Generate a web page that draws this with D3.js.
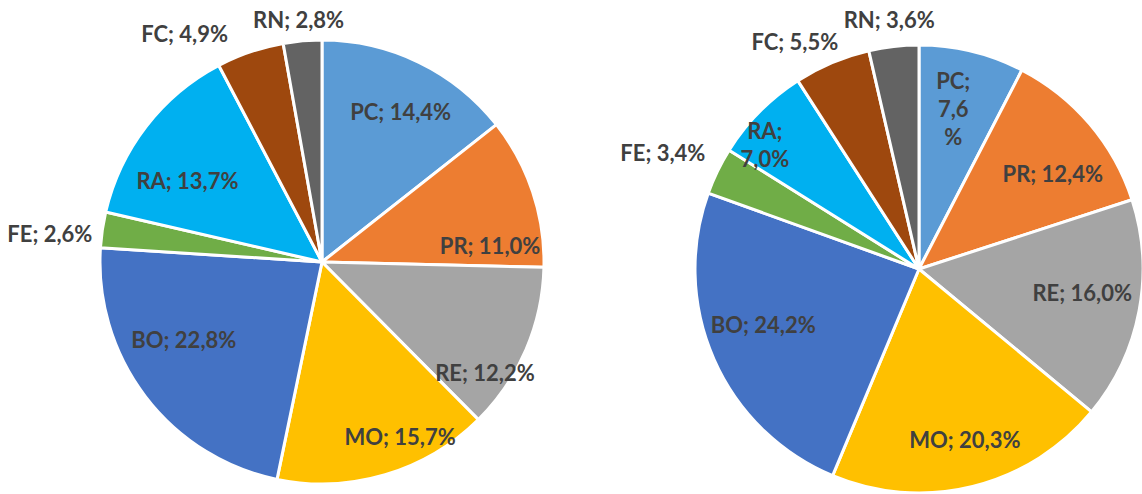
<!DOCTYPE html>
<html>
<head>
<meta charset="utf-8">
<script src="https://cdn.jsdelivr.net/npm/d3@7"></script>
<style>
  body { margin: 0; background: #fff; }
  svg { display: block; }
</style>
</head>
<body>
<div id="chart"></div>
<script>
// categories, clockwise from 12 o'clock
const categories = ["PC", "PR", "RE", "MO", "BO", "FE", "RA", "FC", "RN"];
const leftValues = [14.4, 11.0, 12.2, 15.7, 22.8, 2.6, 13.7, 4.9, 2.8];
const rightValues = [7.6, 12.4, 16.0, 20.3, 24.2, 3.4, 7.0, 5.5, 3.6];

const colors = {
    PC: "#5B9BD5", PR: "#ED7D31", RE: "#A5A5A5", MO: "#FFC000", BO: "#4472C4",
    FE: "#70AD47", RA: "#00B0F0", FC: "#9E480E", RN: "#636363"
};

const width = 1142, height = 494;

// pie placement + label tweaks (pixel nudges from the default label spot)
const pies = [
    {
        values: leftValues, cx: 322, cy: 262, r: 222,
        nudge: {PC: [5, 2], PR: [8, 37], RE: [8, 44], MO: [30, 13], BO: [-4, -24], RA: [-1, 22],
                FE: [12, 8], FC: [-15, 3], RN: [-2, 1]},
        wrap: {}
    },
    {
        values: rightValues, cx: 919, cy: 269, r: 224,
        nudge: {PC: [-6, 5], PR: [4, 15], RE: [-4, -8], MO: [5, 6], BO: [0, -13], RA: [-33, -4],
                FE: [8, -8], FC: [15, 0], RN: [-2, -4]},
        wrap: {PC: [1, 3], RA: [1]}   // split label text after these word/char breaks
    }
];

const fmt = v => v.toFixed(1).replace(".", ",") + "%";

const svg = d3.select("#chart").append("svg")
    .attr("width", width)
    .attr("height", height);

const pie = d3.pie().sort(null).value(d => d.value);

pies.forEach(p => {
    const data = categories.map((c, i) => ({cat: c, value: p.values[i]}));
    const arcs = pie(data);
    const g = svg.append("g").attr("transform", `translate(${p.cx},${p.cy})`);

    const arc = d3.arc().innerRadius(0).outerRadius(p.r);
    g.selectAll("path")
        .data(arcs)
        .enter().append("path")
        .attr("d", arc)
        .attr("fill", d => colors[d.data.cat])
        .attr("stroke", "#fff")
        .attr("stroke-width", 3)
        .attr("stroke-linejoin", "round");

    const inArc = d3.arc().innerRadius(p.r * 0.76).outerRadius(p.r * 0.76);
    const outArc = d3.arc().innerRadius(p.r * 1.1).outerRadius(p.r * 1.1);

    arcs.forEach(d => {
        const outside = d.data.value < 6;
        const [x0, y0] = (outside ? outArc : inArc).centroid(d);
        const mid = (d.startAngle + d.endAngle) / 2;
        const s = Math.sin(mid);
        let anchor = "middle";
        if (outside && s < -0.3) anchor = "end";
        if (outside && s > 0.3) anchor = "start";
        const [dx, dy] = p.nudge[d.data.cat] || [0, 0];

        // build the label lines
        const full = d.data.cat + "; " + fmt(d.data.value);
        let lines = [full];
        const br = p.wrap[d.data.cat];
        if (br) {
            const parts = [d.data.cat + ";", fmt(d.data.value).replace("%", ""), "%"];
            lines = br.length === 2 ? parts : [parts[0], parts[1] + "%"];
        }
        const lh = 28;
        const text = g.append("text")
            .attr("x", x0 + dx)
            .attr("y", y0 + dy - (lines.length - 1) * lh / 2)
            .attr("text-anchor", anchor)
            .attr("dy", "0.36em")
            .style("font-family", "Lato, 'Open Sans', sans-serif")
            .style("font-weight", 700)
            .style("font-size", "22px")
            .attr("fill", "#404040");
        lines.forEach((l, i) => {
            text.append("tspan")
                .attr("x", x0 + dx)
                .attr("dy", i === 0 ? "0.36em" : lh)
                .text(l);
        });
    });
});
</script>
</body>
</html>
